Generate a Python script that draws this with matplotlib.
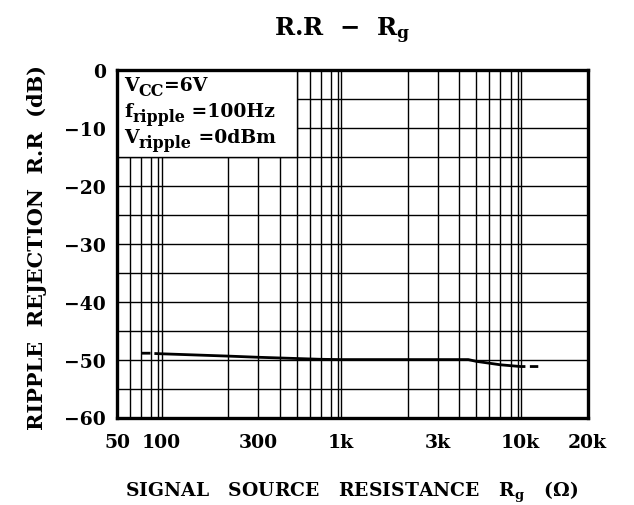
import numpy as np
import matplotlib
matplotlib.use("Agg")
import matplotlib.pyplot as plt
from matplotlib.ticker import FixedLocator, FixedFormatter, NullFormatter
from matplotlib.patches import Rectangle

plt.rcParams['font.family'] = ['DejaVu Serif']
plt.rcParams['font.weight'] = 'bold'
plt.rcParams['mathtext.fontset'] = 'dejavuserif'
plt.rcParams['mathtext.default'] = 'bf'

# ---- data ----
rg_ohm = [70, 79, np.nan, 84, 100, 200, 300, 700, 1000, 2000, 4500, 5000, 7000, 10000, 10500,
          np.nan, 11000, 12000]
rr_db = [-48.9, -48.9, np.nan, -48.95, -49.0, -49.4, -49.6, -49.95, -50.0, -50.0, -50.0, -50.3,
         -50.9, -51.2, -51.2, np.nan, -51.2, -51.2]

x_tick_values = [50, 100, 300, 1000, 3000, 10000, 20000]
x_tick_labels = ['50', '100', '300', '1k', '3k', '10k', '20k']
x_grid_values = [60, 70, 80, 90, 200, 400, 500, 600, 700, 800, 900,
                 2000, 4000, 5000, 6000, 7000, 8000, 9000]
y_tick_values = [0, -10, -20, -30, -40, -50, -60]
y_tick_labels = ['0', '\u221210', '\u221220', '\u221230', '\u221240', '\u221250', '\u221260']
y_grid_values = [-5, -15, -25, -35, -45, -55]

# per-decade spacing of the printed log paper (fraction of a decade)
mant = np.log10([1, 2, 3, 4, 5, 6, 7, 8, 9, 10])
frac = np.array([0, 0.372, 0.538, 0.659, 0.752, 0.825, 0.887, 0.944, 0.983, 1.0])


def fwd(x):
    x = np.asarray(x, dtype=float)
    u = np.log10(np.clip(x, 1e-12, None))
    d = np.floor(u)
    return d + np.interp(u - d, mant, frac)


def inv(v):
    v = np.asarray(v, dtype=float)
    d = np.floor(v)
    return 10 ** (d + np.interp(v - d, frac, mant))


fig = plt.figure(figsize=(6.34, 5.06), dpi=100)
ax = fig.add_axes([117 / 634, 1 - 418.5 / 506, (587.5 - 117) / 634, (418.5 - 71) / 506])
ax.set_xscale('function', functions=(fwd, inv))
ax.set_xlim(50, 20000)
ax.set_ylim(-60, 0)

ax.xaxis.set_major_locator(FixedLocator(x_tick_values))
ax.xaxis.set_major_formatter(FixedFormatter(x_tick_labels))
ax.xaxis.set_minor_locator(FixedLocator(x_grid_values))
ax.xaxis.set_minor_formatter(NullFormatter())
ax.yaxis.set_major_locator(FixedLocator(y_tick_values))
ax.yaxis.set_major_formatter(FixedFormatter(y_tick_labels))
ax.yaxis.set_minor_locator(FixedLocator(y_grid_values))

ax.grid(True, which='both', color='black', linewidth=1.0)
ax.tick_params(which='both', length=0)
ax.tick_params(axis='x', labelsize=13.5, pad=11)
ax.tick_params(axis='y', labelsize=13.5, pad=8)
for s in ax.spines.values():
    s.set_linewidth(2.4)
    s.set_zorder(5)

# condition box (covers the grid)
ax.add_patch(Rectangle((50, -15), 500 - 50, 15, facecolor='white', edgecolor='black',
                       linewidth=1.0, zorder=2))

ax.plot(rg_ohm, rr_db, color='black', linewidth=2.0, zorder=3, solid_capstyle='butt')

renderer = fig.canvas.get_renderer()


def line_with_sub(x_px, base_px, main, sub, rest, size=13.5, subsize=11.5, drop=5):
    """Draw main text, a lowered subscript, then the rest; positions in figure pixels."""
    W, H = fig.bbox.width, fig.bbox.height
    t1 = fig.text(x_px / W, 1 - base_px / H, main, fontsize=size, va='baseline', ha='left',
                  zorder=6)
    bb = t1.get_window_extent(renderer)
    t2 = fig.text(bb.x1 / W, 1 - (base_px + drop) / H, sub, fontsize=subsize, va='baseline',
                  ha='left', zorder=6)
    bb2 = t2.get_window_extent(renderer)
    fig.text(bb2.x1 / W, 1 - base_px / H, rest, fontsize=size, va='baseline', ha='left',
             zorder=6)


line_with_sub(124, 91, 'V', 'CC', '=6V')
line_with_sub(124, 117, 'f', 'ripple', ' =100Hz')
line_with_sub(124, 143, 'V', 'ripple', ' =0dBm')

fig.text(342 / 634, 1 - 36 / 506, r'R.R  $-$  R$_{\mathbf{g}}$', fontsize=17.5, ha='center',
         va='baseline')
fig.text(352 / 634, 1 - 497 / 506, r'SIGNAL   SOURCE   RESISTANCE   R$_{\mathbf{g}}$   ($\Omega$)',
         fontsize=13.5, ha='center', va='baseline')
fig.text(37 / 634, 1 - 248 / 506, 'RIPPLE  REJECTION  R.R  (dB)', fontsize=15,
         ha='center', va='center', rotation=90)

fig.savefig('out.png', dpi=100)
